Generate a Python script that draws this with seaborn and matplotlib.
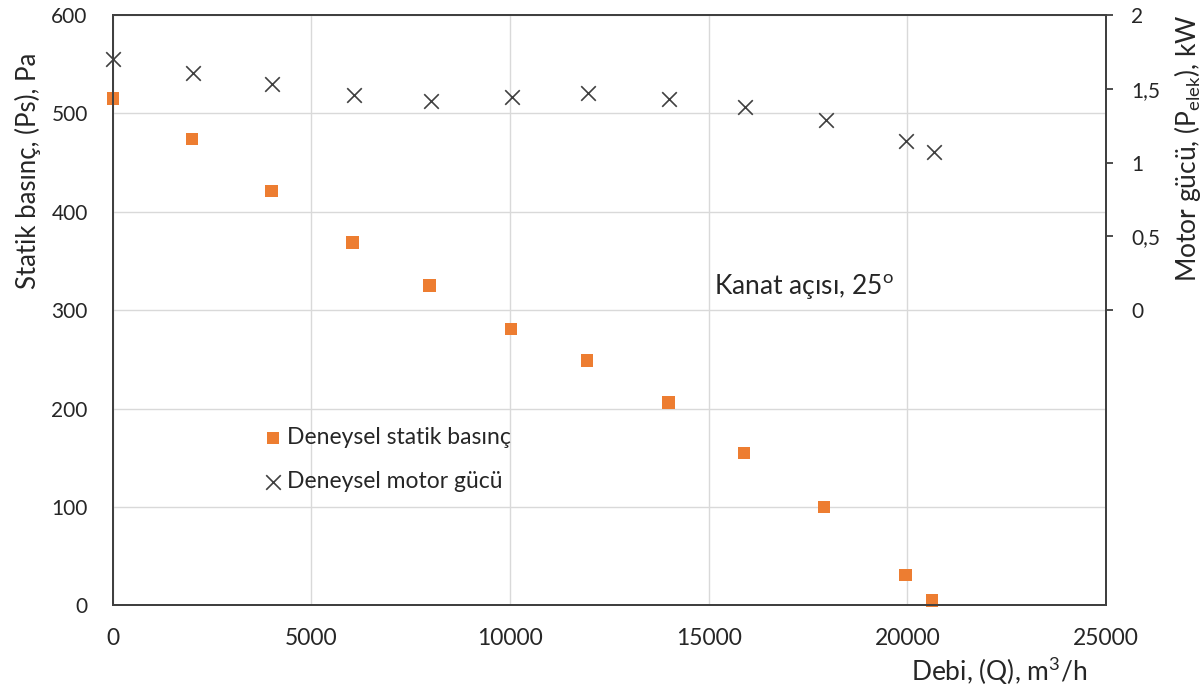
"""Fan test: static pressure and motor power against flow rate (blade angle 25 deg)."""

import matplotlib

matplotlib.use("Agg")
import matplotlib.pyplot as plt
import pandas as pd
import seaborn as sns

# static pressure series
flow_ps = [0, 2000, 4000, 6030, 7970, 10030, 11930, 13990, 15890, 17900, 19950, 20620]
static_pressure = [515, 474, 421, 369, 325, 281, 249, 206, 155, 100, 31, 5]

# motor power series
flow_pw = [0, 2020, 4010, 6060, 8000, 10050, 11950, 14000, 15900, 17940, 19970, 20660]
motor_power = [1.70, 1.61, 1.535, 1.46, 1.42, 1.447, 1.47, 1.43, 1.376, 1.29, 1.143, 1.075]

power_ticks = [0, 0.5, 1, 1.5, 2]
power_tick_labels = ["0", "0,5", "1", "1,5", "2"]

ORANGE = "#ED7D31"
DARK = "#404040"
GRID = "#D9D9D9"
TEXT = "#262626"


def main() -> None:
    sns.set_theme(style="white")
    plt.rcParams["font.family"] = ["Lato", "DejaVu Sans"]
    plt.rcParams["mathtext.fontset"] = "custom"
    plt.rcParams["mathtext.rm"] = "Lato"

    ps_df = pd.DataFrame({"Q": flow_ps, "Ps": static_pressure})
    pw_df = pd.DataFrame({"Q": flow_pw, "P": motor_power})

    fig = plt.figure(figsize=(12.02, 6.86), dpi=100)
    ax = fig.add_axes([0.0938, 0.1176, 0.8264, 0.8605])
    ax2 = ax.twinx()

    sns.scatterplot(data=ps_df, x="Q", y="Ps", ax=ax, marker="s", s=80, color=ORANGE,
                    edgecolor="none", label="Deneysel statik basınç", zorder=3, clip_on=False)
    sns.scatterplot(data=pw_df, x="Q", y="P", ax=ax2, marker="x", s=110, color=DARK,
                    linewidth=1.2, label="Deneysel motor gücü", zorder=3, clip_on=False)

    ax.set_xlim(0, 25000)
    ax.set_ylim(0, 600)
    ax.set_xticks(range(0, 25001, 5000))
    ax.set_yticks(range(0, 601, 100))
    ax2.set_ylim(-2, 2)
    ax2.set_yticks(power_ticks)
    ax2.set_yticklabels(power_tick_labels)

    ax.grid(True, color=GRID, linewidth=1.0)
    ax.set_axisbelow(True)
    for a in (ax, ax2):
        for side in a.spines.values():
            side.set_color(DARK)
            side.set_linewidth(1.4)
    ax.tick_params(axis="both", length=0, labelsize=15, colors=TEXT)
    ax.tick_params(axis="y", pad=18)
    ax.tick_params(axis="x", pad=16, labelsize=16.5)
    ax2.tick_params(axis="y", length=5, width=1.3, color=DARK, pad=13, labelsize=15,
                    labelcolor=TEXT, direction="out")

    ax.set_xlabel("Debi, (Q), m$^{3}$/h", fontsize=19, color=TEXT, ha="right", va="center")
    ax.xaxis.set_label_coords(0.981, -0.11)
    ax.set_ylabel("Statik basınç, (Ps), Pa", fontsize=18.5, color=TEXT, va="center")
    ax.yaxis.set_label_coords(-0.085, 0.736)
    ax2.set_ylabel(r"Motor gücü, (P$_{\mathrm{elek}}$), kW", fontsize=19, color=TEXT,
                   rotation=90, va="center")
    ax2.yaxis.set_label_coords(1.0815, 0.775)

    ax.text(15120, 323, "Kanat açısı, 25$^{\\mathrm{o}}$", fontsize=19, color=TEXT,
            ha="left", va="center")

    h1, l1 = ax.get_legend_handles_labels()
    h2, l2 = ax2.get_legend_handles_labels()
    if ax.get_legend():
        ax.get_legend().remove()
    ax2.legend(h1 + h2, l1 + l2, loc="center left", bbox_to_anchor=(0.128, 0.247),
               frameon=False, fontsize=16.5, labelspacing=1.0, handletextpad=0.05,
               handlelength=1.1, labelcolor=TEXT)

    fig.savefig("out.png", dpi=100)
    plt.close(fig)


if __name__ == "__main__":
    main()
